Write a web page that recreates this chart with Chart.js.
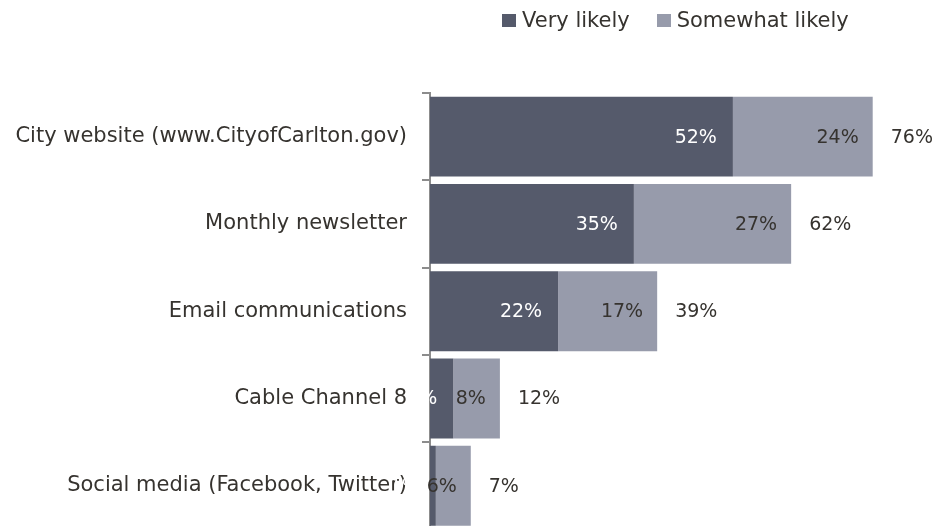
<!DOCTYPE html>
<html>
<head>
<meta charset="utf-8">
<script src="https://cdn.jsdelivr.net/npm/chart.js@4"></script>
<style>
  html, body { margin: 0; padding: 0; background: #fff; overflow: hidden; }
  #wrap { position: relative; width: 938px; height: 526px; overflow: hidden; }
  #legend {
    position: absolute; top: 8px; left: 502px;
    display: flex; align-items: center; white-space: nowrap;
    font-family: "DejaVu Sans", sans-serif; font-size: 21px; color: #36332f;
  }
  #legend span.box { display: inline-block; width: 14px; height: 13px; margin-right: 6px; }
  #legend span.item { display: flex; align-items: center; margin-right: 27px; }
</style>
</head>
<body>
<div id="wrap">
  <canvas id="surveyChart" width="938" height="557"></canvas>
  <div id="legend"></div>
</div>
<script>
// Survey: how likely to use each source for city information
const categories = [
  'City website (www.CityofCarlton.gov)',
  'Monthly newsletter',
  'Email communications',
  'Cable Channel 8',
  'Social media (Facebook, Twitter)'
];
const veryLikely = [52, 35, 22, 4, 1];
const somewhatLikely = [24, 27, 17, 8, 6];
const totals = [76, 62, 39, 12, 7];
const seriesNames = ['Very likely', 'Somewhat likely'];
const seriesColors = ['#555a6b', '#979bab'];

const fontFamily = '"DejaVu Sans", sans-serif';

// value labels: inside-end for each segment, totals past the bar
const barLabels = {
  id: 'barLabels',
  afterDatasetsDraw(chart) {
    const ctx = chart.ctx;
    ctx.save();
    ctx.font = '19px ' + fontFamily;
    ctx.textBaseline = 'middle';
    const textColors = ['#ffffff', '#36332f'];
    const insets = [16, 14];
    chart.data.datasets.forEach((ds, di) => {
      const meta = chart.getDatasetMeta(di);
      meta.data.forEach((bar, i) => {
        ctx.fillStyle = textColors[di];
        ctx.textAlign = 'right';
        ctx.fillText(ds.data[i] + '%', bar.x - insets[di], bar.y + 1);
        if (di === chart.data.datasets.length - 1) {
          ctx.fillStyle = '#36332f';
          ctx.textAlign = 'left';
          ctx.fillText(totals[i] + '%', bar.x + 18, bar.y + 1);
        }
      });
    });
    ctx.restore();
  }
};

const ctx = document.getElementById('surveyChart').getContext('2d');
new Chart(ctx, {
  type: 'bar',
  data: {
    labels: categories,
    datasets: [
      { label: seriesNames[0], data: veryLikely, backgroundColor: seriesColors[0] },
      { label: seriesNames[1], data: somewhatLikely, backgroundColor: seriesColors[1] }
    ]
  },
  options: {
    indexAxis: 'y',
    responsive: false,
    animation: false,
    layout: { padding: { top: 93, right: 42, bottom: 0, left: 0 } },
    datasets: { bar: { categoryPercentage: 0.915, barPercentage: 1 } },
    scales: {
      x: {
        stacked: true,
        display: false,
        min: 0,
        max: 80
      },
      y: {
        stacked: true,
        afterFit(scale) { scale.width = 430; },
        border: { display: true, color: '#8c8c8c', width: 2 },
        grid: {
          drawOnChartArea: false,
          drawTicks: true,
          tickLength: 8,
          color: '#8c8c8c',
          lineWidth: 2,
          offset: true
        },
        ticks: {
          padding: 15,
          color: '#36332f',
          font: { family: fontFamily, size: 21 }
        }
      }
    },
    plugins: {
      legend: { display: false },
      tooltip: { enabled: false }
    }
  },
  plugins: [barLabels]
});

// legend above the plot
const legend = document.getElementById('legend');
seriesNames.forEach((name, i) => {
  const item = document.createElement('span');
  item.className = 'item';
  item.innerHTML = '<span class="box" style="background:' + seriesColors[i] + '"></span>' + name;
  legend.appendChild(item);
});
</script>
</body>
</html>
